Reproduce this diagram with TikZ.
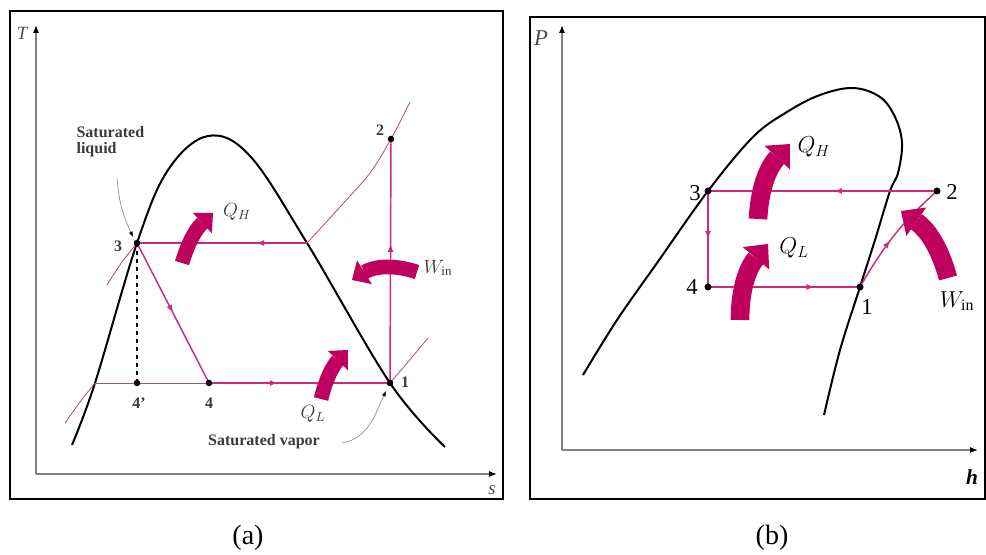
\documentclass[tikz,border=0pt]{standalone}
\usepackage{fontspec}
\setmainfont{Liberation Serif}
\usetikzlibrary{arrows.meta,decorations.markings}
\definecolor{cyclepink}{HTML}{CC2A80}
\definecolor{fatpink}{HTML}{BF005F}
\definecolor{isopink}{HTML}{B04A7A}
\definecolor{labelgray}{HTML}{3A3A3A}

\tikzset{
  midarrow/.style={postaction={decorate},decoration={markings,
    mark=at position #1 with {\arrow{Latex[length=6pt,width=4.5pt]}}}},
  midarrow/.default=0.5}

\begin{document}
\begin{tikzpicture}[x=0.75pt,y=-0.75pt,
  frame/.style={draw,line width=1.5pt},
  axis/.style={draw=black!50,line width=0.9pt,-{Latex[black,length=6pt,width=4.5pt]}},
  dome/.style={draw,line width=1.5pt},
  iso/.style={draw=isopink,line width=0.6pt},
  cyc/.style={draw=cyclepink,line width=1.1pt},
  fatA/.style={draw=fatpink,line width=11pt,
    -{Triangle[length=11pt,width=21pt,line width=0pt]}},
  fatB/.style={draw=fatpink,line width=14pt,
    -{Triangle[length=14pt,width=26pt,line width=0pt]}},
  leader/.style={draw=black!45,line width=0.5pt,-{Latex[black,length=4pt,width=3pt]}},
  numA/.style={font=\fontsize{12}{14}\selectfont\bfseries,text=labelgray,inner sep=1pt},
  numB/.style={font=\fontsize{17}{19}\selectfont,inner sep=1pt},
  qA/.style={font=\fontsize{14}{16}\selectfont,text=labelgray,inner sep=1pt},
  qB/.style={font=\fontsize{17}{19}\selectfont,inner sep=1pt},
  axlabel/.style={font=\fontsize{14}{16}\selectfont\itshape,text=black!70,inner sep=1pt},
  caption/.style={font=\fontsize{21}{24}\selectfont,inner sep=0pt}]
\useasboundingbox (0,0) rectangle (986,555);

% ---- (a) T-s diagram ----
\draw[frame] (10,11) rectangle (503,499);
\coordinate (aO) at (36,474);
\coordinate (aT) at (36,25);
\coordinate (aS) at (497,474);
\draw[axis] (aO) -- (aT);
\draw[axis] (aO) -- (aS);
\node[axlabel] (Tlab) at (22,33) {T};
\node[axlabel] (slab) at (492,490) {s};

\coordinate (a3) at (137,243);
\coordinate (a2) at (391,139);
\coordinate (a2s) at (307,243);
\coordinate (a4p) at (137,383);
\coordinate (a4) at (209,383);
\coordinate (a1) at (390,383);
\coordinate (a0) at (95,383);

% saturation dome
\draw[dome] plot[smooth,tension=0.6] coordinates {(72,445) (95,383) (137,243)
  (168,170) (208,136) (250,156) (307,243) (390,383) (445,447)};
% isobars
\draw[iso] plot[smooth] coordinates {(a2s) (340,207) (370,173) (a2) (410,102)};
\draw[iso] plot[smooth] coordinates {(107,285) (122,262) (a3)};
\draw[iso] plot[smooth] coordinates {(65,423) (80,402) (a0)};
\draw[iso] plot[smooth] coordinates {(a1) (408,362) (428,338)};
\draw[iso] (a0) -- (a4);
\draw[dashed,line width=0.8pt] (a3) -- (a4p);
% cycle
\draw[cyc,midarrow=0.57] (a1) -- (a2);
\draw[cyc,midarrow=0.3] (a2s) -- (a3);
\draw[cyc,midarrow=0.5] (a3) -- (a4);
\draw[cyc,midarrow=0.38] (a4) -- (a1);
\foreach \p in {a1,a2,a3,a4,a4p} \fill (\p) circle (3.3);

\node[numA] (n2a) at (380,130) {2};
\node[numA] (n3a) at (118,246) {3};
\node[numA] (n4pa) at (139,403) {4'};
\node[numA] (n4a) at (209,403) {4};
\node[numA] (n1a) at (405,382) {1};

% heat and work
\coordinate (qhaT) at (182,263);
\coordinate (qhaH) at (213,213);
\coordinate (winaT) at (417,272);
\coordinate (winaH) at (352,280);
\coordinate (qlaT) at (321,399);
\coordinate (qlaH) at (348,350);
\draw[fatA] (qhaT) to[bend left=15] (qhaH);
\draw[fatA] (winaT) to[bend right=25] (winaH);
\draw[fatA] (qlaT) to[bend left=15] (qlaH);
\node[qA] (qha) at (237,212) {$Q_H$};
\node[qA] (wina) at (438,268) {$W_{\mathrm{in}}$};
\node[qA] (qla) at (313,414) {$Q_L$};

% saturated states
\node[numA,align=left,anchor=north west] (satliq) at (75,125) {Saturated\\[-2pt]liquid};
\node[numA] (satvap) at (264,442) {Saturated vapor};
\coordinate (liqend) at (133,237);
\coordinate (vapend) at (386,391);
\draw[leader] (117,179) to[out=275,in=115] (liqend);
\draw[leader] (342,443) to[out=10,in=245] (vapend);

\node[caption] (capa) at (248,538) {(a)};

% ---- (b) P-h diagram ----
\draw[frame] (530,17) rectangle (985,499);
\coordinate (bO) at (562,450);
\coordinate (bP) at (562,25);
\coordinate (bH) at (978,450);
\draw[axis] (bO) -- (bP);
\draw[axis] (bO) -- (bH);
\node[axlabel,font=\fontsize{17}{19}\selectfont\itshape] (Plab) at (541,38) {P};
\node[font=\fontsize{16}{18}\selectfont\bfseries\itshape,inner sep=1pt] (hlab) at (972,477) {h};

\coordinate (b3) at (708,191);
\coordinate (b2) at (937,191);
\coordinate (b4) at (708,287);
\coordinate (b1) at (860,287);

\draw[dome] plot[smooth,tension=0.6] coordinates {(583,375) (617,320) (657,263)
  (b3) (753,137) (787,112) (820,95) (853,88) (880,97) (895,117) (902,143)
  (898,173) (890,191) (875,240) (b1) (840,350) (824,415)};
\draw[cyc,midarrow=0.45] (b2) -- (b3);
\draw[cyc,midarrow=0.5] (b3) -- (b4);
\draw[cyc,midarrow=0.7] (b4) -- (b1);
\draw[cyc,midarrow=0.45] (b1) to[out=60,in=222] (b2);
\foreach \p in {b1,b2,b3,b4} \fill (\p) circle (3.5);

\node[numB] (n3b) at (695,193) {3};
\node[numB] (n2b) at (952,192) {2};
\node[numB] (n4b) at (692,287) {4};
\node[numB] (n1b) at (867,307) {1};

\coordinate (qhbT) at (758,219);
\coordinate (qhbH) at (790,144);
\coordinate (qlbT) at (740,320);
\coordinate (qlbH) at (768,244);
\coordinate (winbT) at (948,278);
\coordinate (winbH) at (901,211);
\draw[fatB] (qhbT) to[bend left=20] (qhbH);
\draw[fatB] (qlbT) to[bend left=20] (qlbH);
\draw[fatB] (winbT) to[bend right=20] (winbH);
\node[qB] (qhb) at (814,147) {$Q_H$};
\node[qB] (qlb) at (794,248) {$Q_L$};
\node[qB] (winb) at (957,301) {$W_{\mathrm{in}}$};

\node[caption] (capb) at (772,538) {(b)};
\end{tikzpicture}
\end{document}
